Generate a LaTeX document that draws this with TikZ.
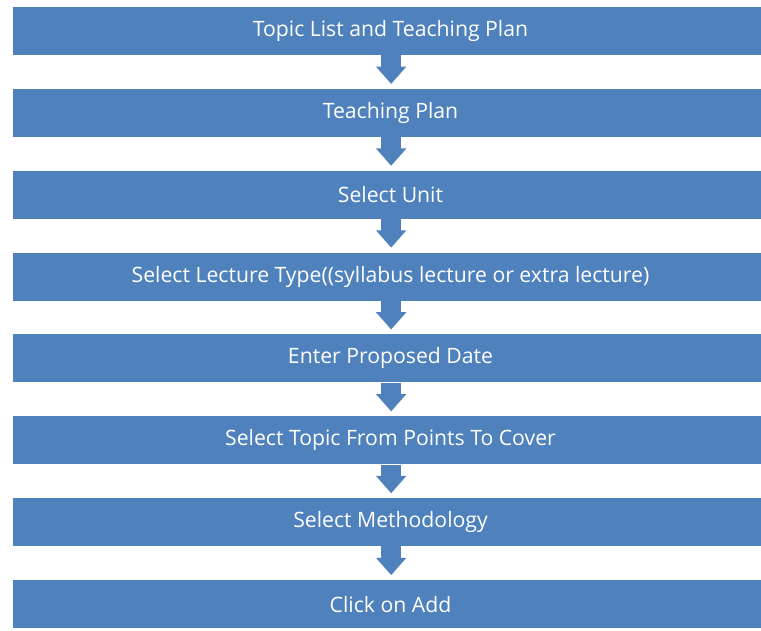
\documentclass[tikz,border=0pt]{standalone}
\usepackage{fontspec}
\setmainfont{Open Sans}
\usetikzlibrary{arrows.meta,positioning}
\definecolor{PlanBlue}{HTML}{4F81BD}

\begin{document}
\begin{tikzpicture}[
    x=0.75pt, y=0.75pt,
    node distance=25pt,
    stepbox/.style={fill=PlanBlue, draw=none, text=white, minimum width=566pt,
        minimum height=36pt, inner sep=0pt, font=\fontsize{15.9}{18}\selectfont},
    flow/.style={PlanBlue, line width=15pt, shorten >=3.5pt,
        -{Triangle[length=13pt, width=22pt]}}
]
    % page frame (761 x 631 px)
    \useasboundingbox (0,0) rectangle (761,631);
    \clip (0,0) rectangle (761,631);

    % ========== STEPS ==========
    \node[stepbox] (topic) at (390.5,600) {Topic List and Teaching Plan};
    \node[stepbox, below=of topic] (plan) {Teaching Plan};
    \node[stepbox, below=of plan] (unit) {Select Unit};
    \node[stepbox, below=of unit] (lecture) {Select Lecture Type((syllabus lecture or extra lecture)};
    \node[stepbox, below=of lecture] (date) {Enter Proposed Date};
    \node[stepbox, below=of date] (points) {Select Topic From Points To Cover};
    \node[stepbox, below=of points] (method) {Select Methodology};
    \node[stepbox, below=of method] (add) {Click on Add};

    % ========== ARROWS ==========
    \foreach \a/\b in {topic/plan, plan/unit, unit/lecture, lecture/date,
        date/points, points/method, method/add}
        \draw[flow] ([xshift=0.5pt]\a.south) -- ([xshift=0.5pt]\b.north);

\end{tikzpicture}
\end{document}
